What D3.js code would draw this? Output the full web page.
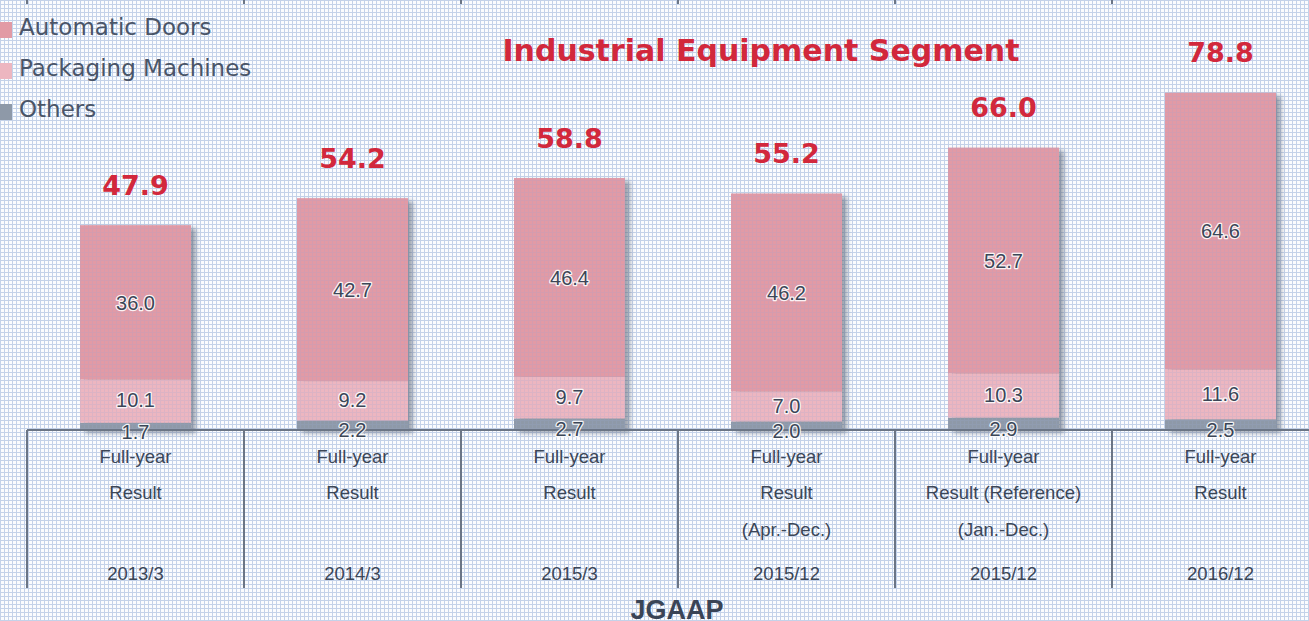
<!DOCTYPE html>
<html>
<head>
<meta charset="utf-8">
<script src="https://d3js.org/d3.v7.min.js"></script>
<style>
  body { margin: 0; background: #fff; }
  text { font-family: "Liberation Sans", Arial, sans-serif; }
</style>
</head>
<body>
<script>
// data
const categories = ["2013/3", "2014/3", "2015/3", "2015/12a", "2015/12b", "2016/12"];
const periodLabels = ["2013/3", "2014/3", "2015/3", "2015/12", "2015/12", "2016/12"];
const line1 = ["Full-year", "Full-year", "Full-year", "Full-year", "Full-year", "Full-year"];
const line2 = ["Result", "Result", "Result", "Result", "Result (Reference)", "Result"];
const line3 = ["", "", "", "(Apr.-Dec.)", "(Jan.-Dec.)", ""];
const automaticDoors = [36.0, 42.7, 46.4, 46.2, 52.7, 64.6];
const packagingMachines = [10.1, 9.2, 9.7, 7.0, 10.3, 11.6];
const others = [1.7, 2.2, 2.7, 2.0, 2.9, 2.5];
const totals = [47.9, 54.2, 58.8, 55.2, 66.0, 78.8];
const seriesNames = ["Automatic Doors", "Packaging Machines", "Others"];

const W = 1309, H = 621;
const colors = { "Automatic Doors": "#e29aa5", "Packaging Machines": "#edb6c0", "Others": "#8e99a8" };
const ink = "#3b4657";
const verdanaish = '"DejaVu Sans", Verdana, sans-serif';

const svg = d3.select("body").append("svg").attr("width", W).attr("height", H);
const defs = svg.append("defs");

// blue grid paper background
const pat = defs.append("pattern").attr("id", "grid")
  .attr("width", 4).attr("height", 4).attr("patternUnits", "userSpaceOnUse");
pat.append("rect").attr("width", 4).attr("height", 4).attr("fill", "#fbfcfe");
pat.append("rect").attr("width", 4).attr("height", 1).attr("fill", "#c4d2e9");
pat.append("rect").attr("width", 1).attr("height", 4).attr("fill", "#c4d2e9");
svg.append("rect").attr("width", W).attr("height", H).attr("fill", "url(#grid)");

// lines only, laid over the bars
const pat2 = defs.append("pattern").attr("id", "gridLines")
  .attr("width", 4).attr("height", 4).attr("patternUnits", "userSpaceOnUse");
pat2.append("rect").attr("width", 4).attr("height", 1).attr("fill", "#9aa6d2");
pat2.append("rect").attr("width", 1).attr("height", 4).attr("fill", "#9aa6d2");

const shadow = defs.append("filter").attr("id", "shadow")
  .attr("x", "-10%").attr("y", "-10%").attr("width", "130%").attr("height", "130%");
shadow.append("feDropShadow").attr("dx", 5).attr("dy", 3).attr("stdDeviation", 2.5)
  .attr("flood-color", "#5d6878").attr("flood-opacity", 0.6);

const x = d3.scaleBand().domain(categories).range([27, 27 + 217 * 6]).padding(0);
const y = d3.scaleLinear().domain([0, 80]).range([430, 87.2]);
const barW = 111;

const rows = categories.map((c, i) => ({
  cat: c,
  "Automatic Doors": automaticDoors[i],
  "Packaging Machines": packagingMachines[i],
  "Others": others[i]
}));
const stack = d3.stack().keys(["Others", "Packaging Machines", "Automatic Doors"]);
const layers = stack(rows);

// top tick marks of the table above (cut off)
svg.append("g").selectAll("line").data(categories).join("line")
  .attr("x1", d => x(d)).attr("x2", d => x(d)).attr("y1", 0).attr("y2", 4)
  .attr("stroke", "#6b7585").attr("stroke-width", 2);

// bars
const barG = svg.append("g");
categories.forEach((c, i) => {
  const g = barG.append("g").attr("filter", "url(#shadow)");
  layers.forEach(layer => {
    const d = layer[i];
    g.append("rect")
      .attr("x", x(c) + (x.bandwidth() - barW) / 2)
      .attr("width", barW)
      .attr("y", y(d[1]))
      .attr("height", y(d[0]) - y(d[1]))
      .attr("fill", colors[layer.key]);
  });
});
// let the paper show through the bars
categories.forEach((c, i) => {
  barG.append("rect")
    .attr("x", x(c) + (x.bandwidth() - barW) / 2).attr("width", barW)
    .attr("y", y(totals[i])).attr("height", y(0) - y(totals[i]))
    .attr("fill", "url(#gridLines)").attr("opacity", 0.2);
});

// axis / table lines
svg.append("line").attr("x1", 27).attr("x2", W).attr("y1", 430).attr("y2", 430)
  .attr("stroke", "#6b7585").attr("stroke-width", 2);
svg.append("g").selectAll("line").data(categories).join("line")
  .attr("x1", d => x(d)).attr("x2", d => x(d)).attr("y1", 430).attr("y2", 588)
  .attr("stroke", "#6b7585").attr("stroke-width", 2);

// segment value labels
const labG = svg.append("g").attr("text-anchor", "middle")
  .style("font-family", verdanaish)
  .attr("font-size", 20).attr("fill", ink)
  .attr("stroke", "#ffffff").attr("stroke-width", 2.5).attr("paint-order", "stroke")
  .attr("stroke-linejoin", "round").attr("stroke-opacity", 0.9);
layers.forEach(layer => {
  layer.forEach((d, i) => {
    const cx = x(categories[i]) + x.bandwidth() / 2;
    let cy = (y(d[0]) + y(d[1])) / 2;
    if (layer.key === "Others") cy += 5;
    if (layer.key === "Packaging Machines") cy -= 1;
    labG.append("text").attr("x", cx).attr("y", cy).attr("dy", "0.36em")
      .text(d3.format(".1f")(d.data[layer.key]));
  });
});

// totals
svg.append("g").selectAll("text").data(categories).join("text")
  .attr("x", d => x(d) + x.bandwidth() / 2)
  .attr("y", (d, i) => y(totals[i]) - 30)
  .attr("text-anchor", "middle").attr("font-weight", "bold").attr("font-size", 27)
  .style("font-family", verdanaish)
  .attr("fill", "#d2283c")
  .text((d, i) => d3.format(".1f")(totals[i]));

// category table text
const catG = svg.append("g").attr("text-anchor", "middle").attr("font-size", 18.5).attr("fill", ink);
categories.forEach((c, i) => {
  const cx = x(c) + x.bandwidth() / 2;
  catG.append("text").attr("x", cx).attr("y", 463).text(line1[i]);
  catG.append("text").attr("x", cx).attr("y", 499).text(line2[i]);
  catG.append("text").attr("x", cx).attr("y", 536).text(line3[i]);
  catG.append("text").attr("x", cx).attr("y", 580).text(periodLabels[i]);
});

// title
svg.append("text").attr("x", 761).attr("y", 61).attr("text-anchor", "middle")
  .style("font-family", verdanaish)
  .attr("font-weight", "bold").attr("font-size", 30).attr("fill", "#d2283c")
  .text("Industrial Equipment Segment");

// JGAAP (cut off at the bottom edge as in the reference)
svg.append("text").attr("x", 677).attr("y", 619).attr("text-anchor", "middle")
  .attr("font-weight", "bold").attr("font-size", 27).attr("fill", "#3a4456")
  .text("JGAAP");

// legend
const leg = svg.append("g");
seriesNames.forEach((s, i) => {
  const ly = 35 + i * 41;
  leg.append("rect").attr("x", 0).attr("y", ly - 13).attr("width", 12).attr("height", 16)
    .attr("fill", colors[s]);
  leg.append("text").attr("x", 19).attr("y", ly)
    .style("font-family", verdanaish)
    .attr("font-size", 23).attr("fill", "#4a5568").text(s);
});
</script>
</body>
</html>
